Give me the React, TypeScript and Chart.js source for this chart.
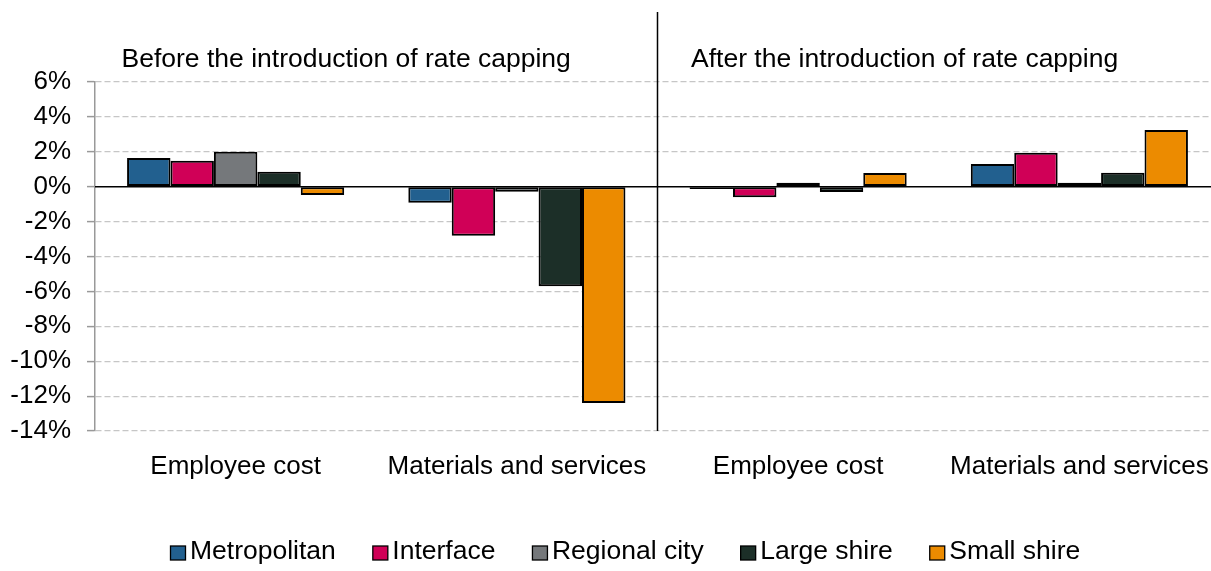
import React, { useEffect, useRef } from 'react';
import { Chart, registerables } from 'chart.js';

Chart.register(...registerables);

const FONT = '"Liberation Sans", Arial, sans-serif';

const categories = ['Employee cost', 'Materials and services', 'Employee cost', 'Materials and services'];
const panelTitles = ['Before the introduction of rate capping', 'After the introduction of rate capping'];

const seriesNames = ['Metropolitan', 'Interface', 'Regional city', 'Large shire', 'Small shire'];
const metropolitan = [1.64, -0.92, -0.13, 1.3];
const interfaceCouncils = [1.49, -2.81, -0.61, 1.95];
const regionalCity = [2.01, -0.29, 0.23, 0.22];
const largeShire = [0.86, -5.7, -0.3, 0.8];
const smallShire = [-0.48, -12.4, 0.78, 3.25];
const seriesColors = ['#22608F', '#D00057', '#75787B', '#1C2F28', '#EC8B00'];

const yMin = -14;
const yMax = 6;
const yStep = 2;

const seriesValues = [metropolitan, interfaceCouncils, regionalCity, largeShire, smallShire];

const decorPlugin = {
  id: 'decor',
  afterDatasetsDraw(chart: any) {
    const { ctx, chartArea, scales } = chart;
    const y0 = scales.y.getPixelForValue(0);
    ctx.save();
    ctx.strokeStyle = '#000';
    ctx.lineWidth = 1.5;
    ctx.beginPath();
    ctx.moveTo(chartArea.left, y0);
    ctx.lineTo(chartArea.right, y0);
    ctx.stroke();

    const xs = scales.x;
    const xd = (xs.getPixelForValue(1) + xs.getPixelForValue(2)) / 2;
    ctx.beginPath();
    ctx.moveTo(xd, 12);
    ctx.lineTo(xd, chartArea.bottom);
    ctx.stroke();

    ctx.fillStyle = '#000';
    ctx.font = `26.5px ${FONT}`;
    ctx.textAlign = 'left';
    ctx.textBaseline = 'alphabetic';
    ctx.fillText(panelTitles[0], chartArea.left + 26.5, 66.5);
    ctx.fillText(panelTitles[1], xd + 33.5, 66.5);

    let x = 170.5;
    const top = 546;
    chart.data.datasets.forEach((ds: any) => {
      ctx.fillStyle = ds.backgroundColor;
      ctx.fillRect(x, top, 15, 14);
      ctx.strokeStyle = '#000';
      ctx.lineWidth = 1.3;
      ctx.strokeRect(x, top, 15, 14);
      ctx.fillStyle = '#000';
      ctx.fillText(ds.label, x + 19.5, 559);
      x += 19.5 + ctx.measureText(ds.label).width + 37;
    });
    ctx.restore();
  },
};

export default function App() {
  const ref = useRef<HTMLCanvasElement>(null);

  useEffect(() => {
    if (!ref.current) return;
    const chart = new Chart(ref.current, {
      type: 'bar',
      data: {
        labels: categories,
        datasets: seriesNames.map((name, i) => ({
          label: name,
          data: seriesValues[i],
          backgroundColor: seriesColors[i],
          borderColor: '#000',
          borderWidth: 2,
          borderSkipped: false,
          categoryPercentage: 0.772,
          barPercentage: 1.0,
        })),
      },
      options: {
        responsive: false,
        animation: false,
        layout: { padding: { top: 82, left: 0, right: 0, bottom: 0 } },
        plugins: {
          legend: { display: false },
          tooltip: { enabled: false },
          title: { display: false },
        },
        scales: {
          x: {
            grid: { display: false, drawTicks: false },
            border: { display: false },
            ticks: {
              font: { size: 26, family: FONT },
              color: '#000',
              padding: 20,
              autoSkip: false,
              maxRotation: 0,
            },
            afterFit: (s: any) => {
              s.height = 140;
              s.paddingLeft = 0;
              s.paddingRight = 0;
            },
          },
          y: {
            min: yMin,
            max: yMax,
            ticks: {
              stepSize: yStep,
              autoSkip: false,
              callback: (v: any) => `${v}%`,
              font: { size: 26, family: FONT },
              color: '#000',
              padding: 16,
            },
            grid: {
              color: (c: any) => (c.tick && c.tick.value === 0 ? 'rgba(0,0,0,0)' : '#C6C6C6'),
              lineWidth: 1.2,
              tickLength: 8,
              tickColor: '#999',
              tickWidth: 1.5,
              tickBorderDash: [],
            },
            border: { display: true, color: '#999', width: 1.5, dash: [6, 3] },
            afterFit: (s: any) => {
              s.width = 95;
            },
          },
        },
      },
      plugins: [decorPlugin],
    });
    return () => chart.destroy();
  }, []);

  return (
    <div style={{ position: 'absolute', left: 0, top: 0, width: 1211, height: 571, overflow: 'hidden', background: '#fff' }}>
      <canvas ref={ref} width={1220} height={571} style={{ display: 'block' }} />
    </div>
  );
}
